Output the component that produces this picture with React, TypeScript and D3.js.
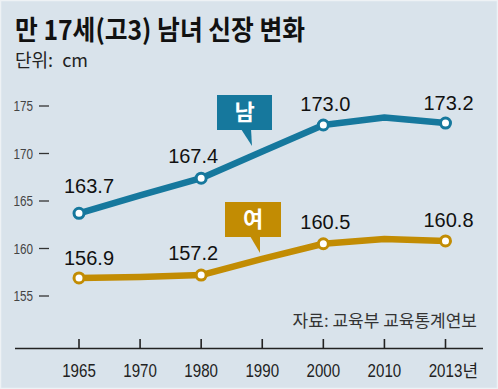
import React from "react";
import * as d3 from "d3";

const years = ["1965", "1970", "1980", "1990", "2000", "2010", "2013"];
const maleHeights = [163.7, 165.6, 167.4, 170.2, 173.0, 173.8, 173.2];
const femaleHeights = [156.9, 157.0, 157.2, 158.9, 160.5, 161.0, 160.8];
const labeledYears = ["1965", "1980", "2000", "2013"];
const yTicks = [155, 160, 165, 170, 175];
const xTickLabels = ["1965", "1970", "1980", "1990", "2000", "2010", "2013"];
const xUnit = "년";

const title = "만 17세(고3) 남녀 신장 변화";
const unitLabel = "단위: cm";
const sourceLabel = "자료: 교육부 교육통계연보";
const maleName = "남";
const femaleName = "여";

// label nudges (style only)
const maleLabelNudge: Record<string, [number, number]> = {
  "1965": [10, -20],
  "1980": [-8, -15],
  "2000": [2, -14],
  "2013": [3, -13],
};
const femaleLabelNudge: Record<string, [number, number]> = {
  "1965": [10, -13],
  "1980": [-8, -15],
  "2000": [2, -15],
  "2013": [3, -14],
};

const W = 498;
const H = 389;
const BG = "#d9e3eb";
const MALE = "#16789d";
const FEMALE = "#c28c03";
const NUM_FONT = "'Liberation Sans', Arial, Helvetica, sans-serif";
const KR_FONT = "'Noto Sans CJK KR', 'Noto Sans KR', sans-serif";

export default function App() {
  const x = d3.scalePoint<string>().domain(years).range([79, 445.5]);
  const y = d3.scaleLinear().domain([155, 175]).range([296, 106]);

  const line = d3
    .line<number>()
    .x((_, i) => x(years[i]) as number)
    .y((d) => y(d));

  const series = [
    { name: maleName, values: maleHeights, color: MALE, nudge: maleLabelNudge },
    { name: femaleName, values: femaleHeights, color: FEMALE, nudge: femaleLabelNudge },
  ];

  const axisY = 348.5;

  return (
    <svg
      width={W}
      height={H}
      viewBox={`0 0 ${W} ${H}`}
      style={{ position: "absolute", left: 0, top: 0, display: "block" }}
    >
      <rect x={0} y={0} width={W} height={H} fill={BG} />
      <rect x={0.5} y={0.5} width={W - 1} height={H - 1} fill="none" stroke="#eef2f5" strokeWidth={1.5} />

      {/* Title */}
      <text
        x={15}
        y={40}
        fontFamily={KR_FONT}
        fontWeight={700}
        fontSize={27}
        fill="#111"
        textLength={290}
        lengthAdjust="spacingAndGlyphs"
      >
        {title}
      </text>
      <text x={15} y={67} fontFamily={KR_FONT} fontSize={18} fill="#222" wordSpacing={5}>
        {unitLabel}
      </text>

      {/* Y ticks */}
      {yTicks.map((t) => (
        <g key={t}>
          <text
            transform={`translate(33,${y(t)}) scale(0.78,1)`}
            dy="0.36em"
            textAnchor="end"
            fontFamily={NUM_FONT}
            fontSize={15}
            fill="#444"
          >
            {t}
          </text>
          <line x1={39} x2={49} y1={y(t)} y2={y(t)} stroke="#333" strokeWidth={1.3} />
        </g>
      ))}

      {/* X axis */}
      <line x1={15} x2={483} y1={axisY} y2={axisY} stroke="#222" strokeWidth={1.6} />
      {years.map((yr, i) => (
        <g key={yr}>
          <line
            x1={x(yr) as number}
            x2={x(yr) as number}
            y1={339}
            y2={axisY}
            stroke="#222"
            strokeWidth={1.6}
          />
          <text
            transform={`translate(${x(yr) as number},377) scale(0.84,1)`}
            textAnchor="middle"
            fontFamily={NUM_FONT}
            fontSize={18}
            fill="#222"
          >
            {xTickLabels[i]}
          </text>
        </g>
      ))}
      <text
        x={(x("2013") as number) + 17}
        y={377}
        fontFamily={KR_FONT}
        fontSize={17}
        fill="#222"
      >
        {xUnit}
      </text>

      {/* Source */}
      <text x={477} y={327} textAnchor="end" fontFamily={KR_FONT} fontSize={17} fill="#333">
        {sourceLabel}
      </text>

      {/* Lines */}
      {series.map((s) => (
        <path
          key={s.name}
          d={line(s.values) || ""}
          fill="none"
          stroke={s.color}
          strokeWidth={6.5}
          strokeLinejoin="round"
          strokeLinecap="round"
        />
      ))}

      {/* Markers and labels */}
      {series.map((s) =>
        labeledYears.map((yr) => {
          const i = years.indexOf(yr);
          const cx = x(yr) as number;
          const cy = y(s.values[i]);
          const [dx, dy] = s.nudge[yr];
          return (
            <g key={s.name + yr}>
              <circle cx={cx} cy={cy} r={5} fill="#fff" stroke={s.color} strokeWidth={3} />
              <text
                x={cx + dx}
                y={cy + dy}
                textAnchor="middle"
                fontFamily={NUM_FONT}
                fontSize={20}
                fill="#111"
              >
                {s.values[i].toFixed(1)}
              </text>
            </g>
          );
        })
      )}

      {/* Callout boxes */}
      <g>
        <rect x={217} y={95} width={55} height={35} fill={MALE} />
        <path d="M241,129 L251,129 L252,146 Z" fill={MALE} />
        <text x={244.5} y={112.5} dy="0.36em" textAnchor="middle" fontFamily={KR_FONT} fontWeight={700} fontSize={22} fill="#fff">
          {maleName}
        </text>
      </g>
      <g>
        <rect x={225} y={202} width={56} height={35} fill={FEMALE} />
        <path d="M250,236 L260,236 L260,253 Z" fill={FEMALE} />
        <text x={253} y={219.5} dy="0.36em" textAnchor="middle" fontFamily={KR_FONT} fontWeight={700} fontSize={22} fill="#fff">
          {femaleName}
        </text>
      </g>
    </svg>
  );
}
